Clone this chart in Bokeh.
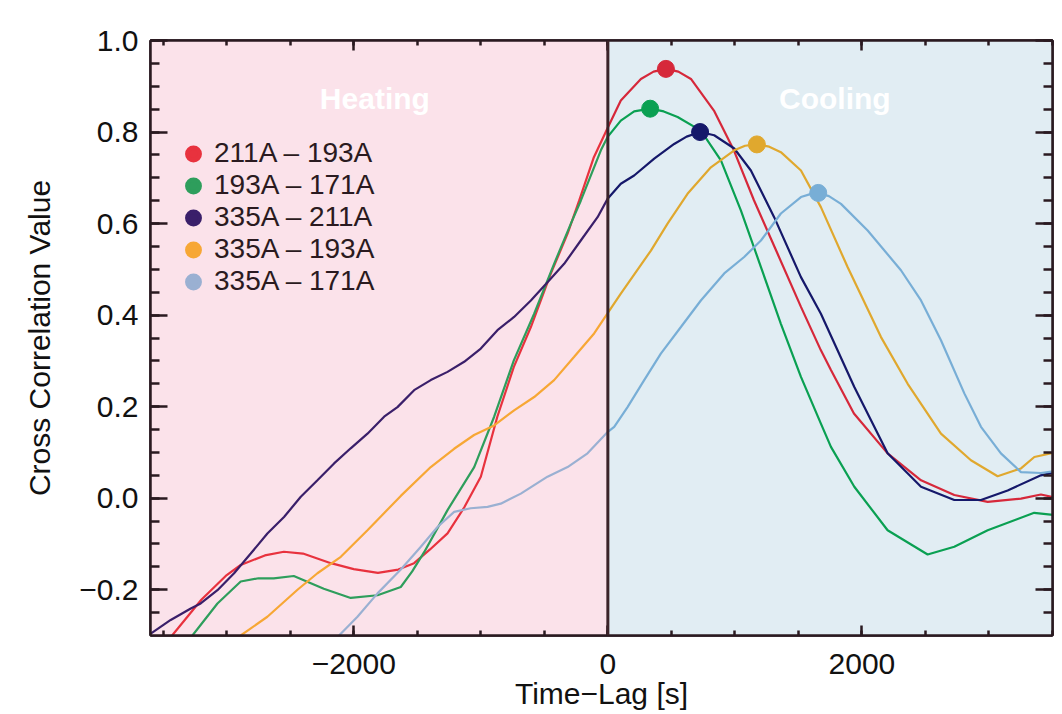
from bokeh.plotting import figure
from bokeh.models import (BoxAnnotation, Span, Label, Legend, LegendItem, LinearAxis,
                          SingleIntervalTicker, CustomJSTickFormatter, Range1d)
from bokeh.embed import file_html
from bokeh.resources import INLINE

# ---------------- data ----------------
series_names = ["211A \u2013 193A", "193A \u2013 171A", "335A \u2013 211A", "335A \u2013 193A", "335A \u2013 171A"]

lag_211_193 = [-3430, -3200, -3000, -2890, -2700, -2550, -2400, -2180, -2000, -1810, -1650, -1525, -1400,
               -1262, -1130, -1000, -870, -740, -606, -450, -317, -226, -110, 0, 102, 260, 360, 457, 555,
               654, 835, 992, 1150, 1336, 1520, 1677, 1756, 1937, 2202, 2465, 2727, 2990, 3252, 3409, 3600]
cc_211_193 = [-0.300, -0.222, -0.168, -0.146, -0.125, -0.117, -0.121, -0.142, -0.155, -0.163, -0.156, -0.142,
              -0.112, -0.077, -0.020, 0.047, 0.178, 0.287, 0.374, 0.490, 0.578, 0.650, 0.745, 0.810, 0.869,
              0.916, 0.932, 0.938, 0.932, 0.916, 0.847, 0.760, 0.651, 0.534, 0.418, 0.323, 0.280, 0.185,
              0.098, 0.039, 0.007, -0.008, -0.001, 0.008, -0.003]

lag_193_171 = [-3270, -3073, -2890, -2750, -2630, -2472, -2236, -2024, -1813, -1630, -1540, -1446, -1262,
               -1052, -895, -740, -580, -423, -291, -213, -55, 0, 102, 207, 333, 440, 549, 732, 890, 1047,
               1205, 1362, 1520, 1677, 1756, 1940, 2202, 2517, 2727, 2990, 3356, 3514, 3600]
cc_193_171 = [-0.300, -0.230, -0.182, -0.175, -0.175, -0.170, -0.198, -0.218, -0.212, -0.194, -0.160, -0.118,
              -0.026, 0.068, 0.178, 0.301, 0.403, 0.512, 0.600, 0.650, 0.760, 0.790, 0.825, 0.845, 0.851,
              0.845, 0.833, 0.803, 0.738, 0.629, 0.505, 0.381, 0.265, 0.163, 0.112, 0.025, -0.070, -0.123,
              -0.106, -0.070, -0.032, -0.037, -0.050]

lag_335_211 = [-3598, -3441, -3283, -3205, -3073, -2942, -2811, -2680, -2549, -2417, -2286, -2155, -2024,
               -1892, -1761, -1656, -1525, -1394, -1262, -1131, -1000, -869, -738, -606, -475, -344, -213,
               -81, 0, 102, 207, 365, 522, 620, 726, 837, 995, 1126, 1309, 1520, 1677, 1940, 2202, 2465,
               2727, 2937, 3147, 3409, 3600]
cc_335_211 = [-0.296, -0.266, -0.241, -0.230, -0.201, -0.164, -0.121, -0.077, -0.041, 0.003, 0.039, 0.076,
              0.109, 0.141, 0.178, 0.199, 0.236, 0.258, 0.276, 0.298, 0.327, 0.367, 0.396, 0.432, 0.472,
              0.512, 0.563, 0.614, 0.655, 0.687, 0.705, 0.742, 0.774, 0.790, 0.800, 0.793, 0.764, 0.716,
              0.614, 0.483, 0.403, 0.243, 0.098, 0.025, -0.004, -0.004, 0.017, 0.050, 0.062]

lag_335_193 = [-2890, -2680, -2443, -2286, -2102, -1892, -1787, -1630, -1394, -1210, -1053, -895, -738,
               -580, -423, -265, -108, 0, 102, 339, 470, 627, 811, 995, 1080, 1173, 1270, 1362, 1520, 1677,
               1887, 2150, 2360, 2622, 2858, 3068, 3252, 3357, 3600]
cc_335_193 = [-0.300, -0.259, -0.200, -0.164, -0.128, -0.070, -0.040, 0.005, 0.068, 0.108, 0.138, 0.159,
              0.192, 0.221, 0.258, 0.309, 0.360, 0.405, 0.447, 0.541, 0.600, 0.665, 0.723, 0.760, 0.770,
              0.773, 0.768, 0.756, 0.716, 0.636, 0.505, 0.352, 0.250, 0.141, 0.083, 0.048, 0.065, 0.090,
              0.105]

lag_335_171 = [-2116, -1971, -1813, -1630, -1472, -1341, -1210, -1080, -947, -843, -685, -475, -317, -160,
               0, 50, 155, 286, 417, 575, 732, 916, 1073, 1205, 1362, 1520, 1600, 1656, 1740, 1835, 2045,
               2307, 2465, 2622, 2806, 2937, 3094, 3252, 3409, 3600]
cc_335_171 = [-0.300, -0.259, -0.208, -0.156, -0.106, -0.063, -0.030, -0.022, -0.019, -0.012, 0.010, 0.047,
              0.068, 0.098, 0.145, 0.156, 0.199, 0.258, 0.316, 0.374, 0.432, 0.491, 0.527, 0.563, 0.622,
              0.658, 0.665, 0.667, 0.660, 0.643, 0.585, 0.498, 0.432, 0.345, 0.229, 0.156, 0.098, 0.057,
              0.055, 0.062]

peak_lag = [457, 333, 726, 1173, 1656]
peak_cc = [0.938, 0.851, 0.800, 0.773, 0.667]

lags = [lag_211_193, lag_193_171, lag_335_211, lag_335_193, lag_335_171]
ccs = [cc_211_193, cc_193_171, cc_335_211, cc_335_193, cc_335_171]

# ---------------- styles ----------------
heat_colors = ["#E8323E", "#2E9E5C", "#3A1F6A", "#F7A735", "#9AB0D2"]
cool_colors = ["#D6283A", "#0AA052", "#15186A", "#E0A82E", "#78AED6"]
PINK = "#FBE2EA"
BLUE = "#E1EDF3"
DARK = "#2A1A20"
FONT = "Liberation Sans"

p = figure(width=1054, height=712, x_range=Range1d(-3600, 3500), y_range=Range1d(-0.3, 1.0),
           output_backend="svg", toolbar_location=None,
           min_border_left=150, min_border_top=40, min_border_right=2, min_border_bottom=77,
           x_axis_label="Time\u2212Lag [s]", y_axis_label="Cross Correlation Value")
p.background_fill_color = "white"
p.border_fill_color = "white"
p.outline_line_color = DARK
p.outline_line_width = 2.5
p.xgrid.visible = False
p.ygrid.visible = False

p.add_layout(BoxAnnotation(right=0, fill_color=PINK, fill_alpha=1, line_alpha=0, level="underlay"))
p.add_layout(BoxAnnotation(left=0, fill_color=BLUE, fill_alpha=1, line_alpha=0, level="underlay"))

xfmt = CustomJSTickFormatter(code="return tick === 0 ? '0' : (tick < 0 ? '\\u2212' : '') + Math.abs(tick).toFixed(0);")
yfmt = CustomJSTickFormatter(code="const v = Math.abs(tick) < 1e-9 ? 0 : tick; return (v < 0 ? '\\u2212' : '') + Math.abs(v).toFixed(1);")
nofmt = CustomJSTickFormatter(code="return '';")


def style_axis(ax, is_x, labels):
    ax.ticker = SingleIntervalTicker(interval=2000 if is_x else 0.2, num_minor_ticks=4)
    ax.axis_line_color = DARK
    ax.axis_line_width = 2.5
    ax.major_tick_line_color = DARK
    ax.minor_tick_line_color = DARK
    ax.major_tick_line_width = 2.5
    ax.minor_tick_line_width = 2.5
    ax.major_tick_out = 0
    ax.minor_tick_out = 0
    ax.major_tick_in = 10 if is_x else 17
    ax.minor_tick_in = 5 if is_x else 9
    if labels:
        ax.formatter = xfmt if is_x else yfmt
        ax.major_label_text_font = FONT
        ax.major_label_text_font_size = "30px"
        ax.major_label_text_color = "#111111"
        ax.major_label_standoff = 18 if is_x else 12
        ax.axis_label_text_font = FONT
        ax.axis_label_text_font_size = "30px"
        ax.axis_label_text_font_style = "normal"
        ax.axis_label_text_color = "#111111"
        ax.axis_label_standoff = 0 if is_x else 20
    else:
        ax.formatter = nofmt
        ax.major_label_standoff = 0


style_axis(p.xaxis[0], True, True)
style_axis(p.yaxis[0], False, True)
top = LinearAxis()
right = LinearAxis()
style_axis(top, True, False)
style_axis(right, False, False)
p.add_layout(top, "above")
p.add_layout(right, "right")

# curves, coloured slightly differently on each background
for xs, ys, hc, cc in zip(lags, ccs, heat_colors, cool_colors):
    hx = [x for x in xs if x <= 0]
    hy = [y for x, y in zip(xs, ys) if x <= 0]
    cx = [x for x in xs if x >= 0]
    cy = [y for x, y in zip(xs, ys) if x >= 0]
    p.line(hx, hy, line_color=hc, line_width=2.2)
    p.line(cx, cy, line_color=cc, line_width=2.2)

p.add_layout(Span(location=0, dimension="height", line_color="#3B2329", line_width=3))

legend_items = []
for i in range(5):
    p.scatter([peak_lag[i]], [peak_cc[i]], size=17, fill_color=cool_colors[i], line_color=cool_colors[i])
    r = p.scatter([peak_lag[i]], [peak_cc[i]], size=12.4, fill_color=heat_colors[i],
                  line_color=heat_colors[i], line_width=4.5, visible=False)
    legend_items.append(LegendItem(label=series_names[i], renderers=[r]))

legend = Legend(items=legend_items, location=(22, 338), padding=0, margin=0, spacing=0,
                glyph_height=31, glyph_width=42, label_standoff=0, label_height=31,
                background_fill_alpha=0, border_line_alpha=0,
                label_text_font=FONT, label_text_font_size="28px", label_text_color=DARK)
p.add_layout(legend)

for txt, xpos in (("Heating", -1834), ("Cooling", 1787)):
    p.add_layout(Label(x=xpos, y=0.873, text=txt, text_align="center", text_baseline="middle",
                       text_color="white", text_font=FONT, text_font_style="bold", text_font_size="30px"))

open("out.html", "w").write(file_html(p, INLINE))
